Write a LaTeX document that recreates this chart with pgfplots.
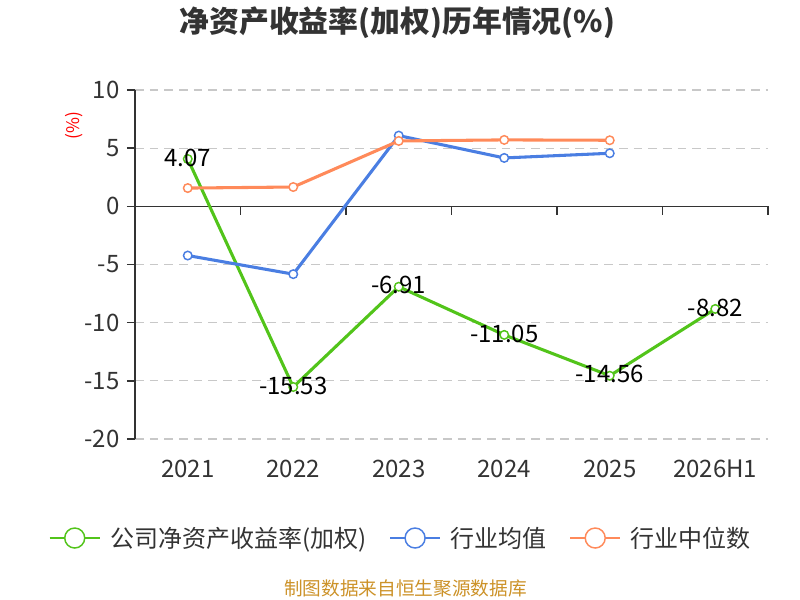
\documentclass[border=0pt]{standalone}
\usepackage{pgfplots}
\pgfplotsset{compat=1.18}
\usepackage{fontspec}
\setmainfont{Noto Sans CJK SC}
\definecolor{cgreen}{RGB}{82,196,26}
\definecolor{cblue}{RGB}{74,126,226}
\definecolor{corange}{RGB}{255,138,90}
\definecolor{ctext}{RGB}{51,51,51}
\definecolor{cgrid}{RGB}{200,200,200}
\definecolor{csource}{RGB}{204,146,40}
\begin{document}
\begin{tikzpicture}[x=1pt,y=1pt]
\path[use as bounding box] (0,0) rectangle (600,450);
\node[font=\bfseries\fontsize{22.4}{25}\selectfont, text=ctext] at (298,433) {净资产收益率(加权)历年情况(\%)};
\node[font=\fontsize{14}{16}\selectfont, text=csource] at (304,8.5) {制图数据来自恒生聚源数据库};
\node[font=\fontsize{13}{15}\selectfont, text=red, rotate=90] at (55.5,356) {(\%)};
\begin{axis}[
  at={(101.25pt,120.75pt)}, anchor=south west,
  scale only axis, width=474.75pt, height=261.75pt,
  xmin=-0.5, xmax=5.5, ymin=-20, ymax=10,
  xtick={0,1,2,3,4,5},
  xticklabels={2021,2022,2023,2024,2025,2026H1},
  ytick={-20,-15,-10,-5,0,5,10},
  axis x line=bottom, axis y line=left,
  x axis line style={draw=none},
  y axis line style={-, draw=ctext, line width=1.1pt},
  xtick style={draw=none},
  ytick style={draw=ctext, line width=1.1pt},
  tick align=outside, major tick length=6pt,
  ymajorgrids, major grid style={cgrid, dash pattern=on 6.5pt off 4.5pt, line width=0.9pt},
  tick label style={font=\fontsize{18}{20}\selectfont, text=ctext},
  /pgf/number format/assume math mode=true,
  xticklabel style={anchor=base, yshift=-22.5pt},
  yticklabel style={anchor=east, xshift=-2pt},
  clip=false,
  legend columns=3,
  legend style={at={(0.4186,-0.2837)}, anchor=center, draw=none, fill=none,
    font=\fontsize{18}{20}\selectfont, text=ctext, inner sep=0pt,
    nodes={inner sep=0pt},
    /tikz/every odd column/.append style={column sep=7.5pt},
    /tikz/every even column/.append style={column sep=17pt}},
  legend image code/.code={
    \draw[#1, line width=1.1pt] (0pt,0pt) -- (37.5pt,0pt);
    \draw[#1, fill=white, line width=1.1pt] (18.75pt,0pt) circle (7.5pt);
  },
  every axis plot/.append style={line width=2.3pt, mark=*, mark size=3.2pt},
]
\draw[ctext, line width=1.1pt] (axis cs:-0.5,0) -- (axis cs:5.5,0);
\pgfplotsinvokeforeach{0.5,1.5,2.5,3.5,4.5,5.5}{
  \draw[ctext, line width=1.1pt] (axis cs:#1,0) -- ++(0pt,-6.75pt);
}
\addplot[cgreen, mark options={fill=white, solid, line width=1.1pt},
  point meta=explicit symbolic,
  nodes near coords={\pgfplotspointmeta},
  every node near coord/.style={anchor=center, inner sep=0pt, yshift=1pt, font=\fontsize{18}{20}\selectfont, text=black}]
  coordinates {(0,4.07)[4.07] (1,-15.53)[-15.53] (2,-6.91)[-6.91] (3,-11.05)[-11.05] (4,-14.56)[-14.56] (5,-8.82)[-8.82]};
\addlegendentry{公司净资产收益率(加权)}
\addplot[cblue, mark options={fill=white, solid, line width=1.1pt}]
  coordinates {(0,-4.23) (1,-5.83) (2,6.08) (3,4.16) (4,4.56)};
\addlegendentry{行业均值}
\addplot[corange, mark options={fill=white, solid, line width=1.1pt}]
  coordinates {(0,1.57) (1,1.66) (2,5.62) (3,5.71) (4,5.68)};
\addlegendentry{行业中位数}
\end{axis}
\end{tikzpicture}
\end{document}
